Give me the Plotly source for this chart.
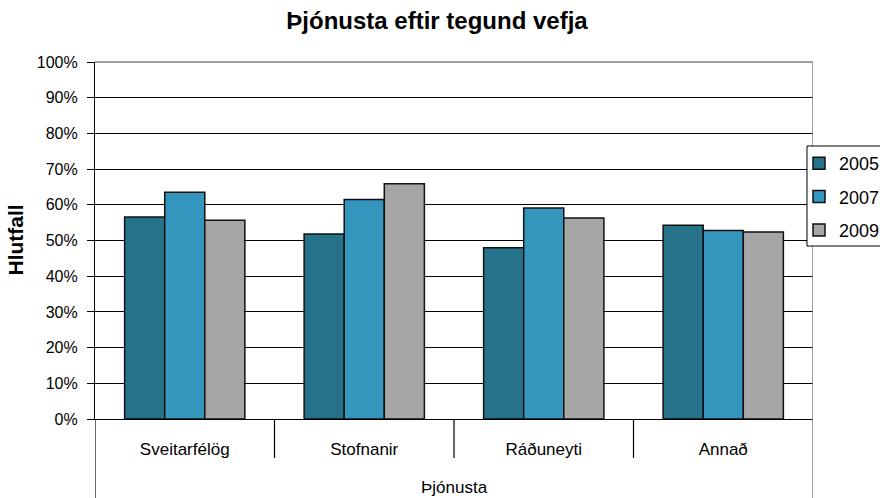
import plotly.graph_objects as go

categories = ["Sveitarfélög", "Stofnanir", "Ráðuneyti", "Annað"]
years = ["2005", "2007", "2009"]
v2005 = [0.566, 0.518, 0.480, 0.543]
v2007 = [0.635, 0.615, 0.591, 0.528]
v2009 = [0.557, 0.659, 0.563, 0.524]
colors = ["#26728B", "#3596BD", "#A6A6A6"]
series = [v2005, v2007, v2009]

W, H = 880, 498
ML, MR, MT, MB = 95, 67, 62, 79
PW, PH = W - ML - MR, H - MT - MB
FONT = "Liberation Sans, Arial, sans-serif"


def px_x(p):
    return (p - ML) / PW


def px_y(p):
    return (H - MB - p) / PH


fig = go.Figure()
for name, vals, col in zip(years, series, colors):
    fig.add_trace(go.Bar(
        x=categories, y=vals, name=name, legendgroup=name,
        marker=dict(color=col, line=dict(color="#111111", width=1.5)),
    ))

n = len(categories)
shapes = []
for i in range(n - 1):
    shapes.append(dict(type="line", xref="x", yref="paper", x0=i + 0.5, x1=i + 0.5,
                       y0=0, y1=px_y(458), line=dict(color="black", width=1.2)))
shapes.append(dict(type="line", xref="x", yref="paper", x0=-0.5, x1=-0.5,
                   y0=0, y1=px_y(H + 2), line=dict(color="black", width=1.2)))
shapes.append(dict(type="line", xref="x", yref="paper", x0=n - 0.5, x1=n - 0.5,
                   y0=1, y1=px_y(H + 2), line=dict(color="#808080", width=1.5)))
shapes.append(dict(type="line", xref="paper", yref="paper", x0=0, x1=1,
                   y0=1, y1=1, line=dict(color="#808080", width=1.5)))
# legend frame
shapes.append(dict(type="rect", xref="paper", yref="paper", layer="above",
                   x0=px_x(807), x1=px_x(W + 20), y0=px_y(246), y1=px_y(146),
                   fillcolor="white", line=dict(color="black", width=1)))

fig.update_layout(
    width=W, height=H,
    margin=dict(l=ML, r=MR, t=MT, b=MB, autoexpand=False),
    paper_bgcolor="white", plot_bgcolor="white",
    font=dict(family=FONT, color="black", size=16),
    title=dict(text="<b>Þjónusta eftir tegund vefja</b>", x=437 / W, xanchor="center",
               xref="container", y=1 - 21 / H, yanchor="middle", yref="container",
               font=dict(size=24, family=FONT, color="black")),
    barmode="group", bargap=0.33, bargroupgap=0,
    xaxis=dict(range=[-0.5, n - 0.5], showline=True, linecolor="black", linewidth=1.2,
               ticks="", ticklabelstandoff=14,
               tickfont=dict(size=17), showgrid=False, zeroline=False),
    yaxis=dict(range=[0, 1], dtick=0.1, tickformat=".0%", showgrid=True,
               gridcolor="black", gridwidth=1, showline=True, linecolor="black",
               linewidth=1.2, ticks="outside", ticklen=7, tickcolor="black",
               ticklabelstandoff=6,
               tickfont=dict(size=16), zeroline=False),
    legend=dict(x=px_x(799), y=px_y(145), xanchor="left", yanchor="top",
                bgcolor="rgba(0,0,0,0)", borderwidth=0,
                font=dict(size=18), tracegroupgap=7, traceorder="grouped"),
    shapes=shapes,
    annotations=[
        dict(text="<b>Hlutfall</b>", xref="paper", yref="paper",
             x=px_x(15), y=0.5, textangle=-90, showarrow=False,
             xanchor="center", yanchor="middle", font=dict(size=21)),
        dict(text="Þjónusta", xref="paper", yref="paper", x=0.5,
             y=px_y(487), showarrow=False,
             xanchor="center", yanchor="middle", font=dict(size=17)),
    ],
)

fig.write_html("out.html", config={"displayModeBar": False},
               post_script="document.body.style.margin='0';")
